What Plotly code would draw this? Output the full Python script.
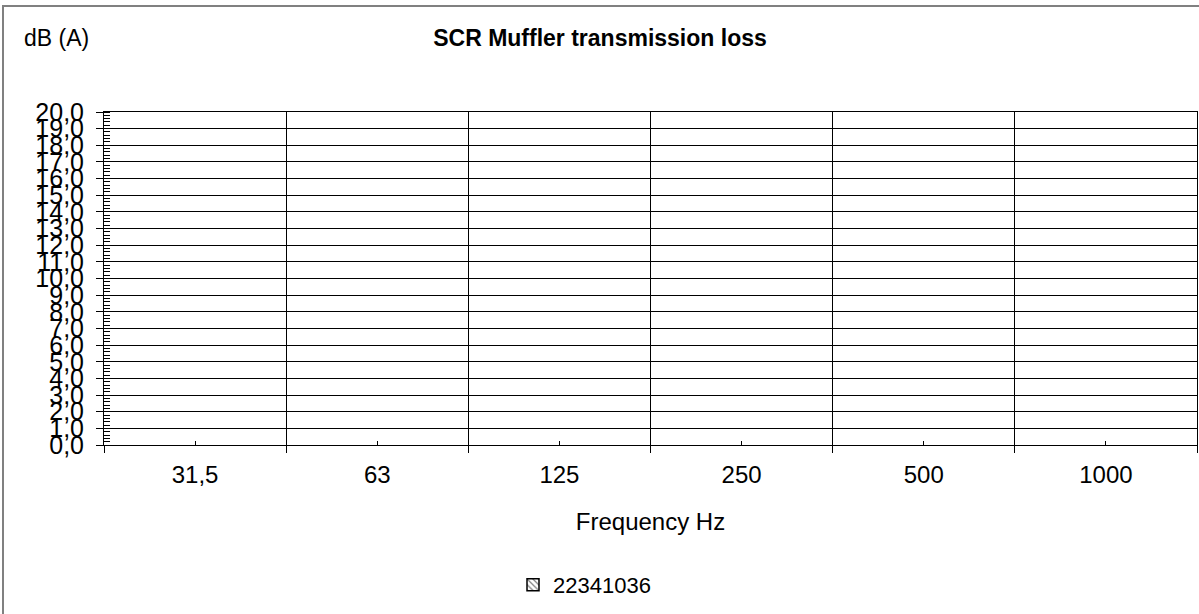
import plotly.graph_objects as go

categories = ["31,5", "63", "125", "250", "500", "1000"]
series_name = "22341036"
series_values = [None, None, None, None, None, None]

title_text = "SCR Muffler transmission loss"
y_label = "dB (A)"
x_label = "Frequency Hz"

L, R, T, B = 104, 2, 112, 169
W, H = 1199, 614
pw = W - L - R
ph = H - T - B

fig = go.Figure()
fig.add_trace(go.Bar(
    x=categories, y=series_values, name=series_name,
    marker=dict(color="white", line=dict(color="black", width=1.5),
                pattern=dict(shape="\\", fgcolor="black", size=5, solidity=0.3)),
    showlegend=True,
))
fig.add_trace(go.Scatter(
    x=categories, y=[None] * len(categories), xaxis="x2", yaxis="y",
    showlegend=False, hoverinfo="skip", mode="lines",
))

FONT = "Liberation Sans, Arial, sans-serif"

fig.update_layout(
    width=W, height=H,
    margin=dict(l=L, r=R, t=T, b=B, autoexpand=False),
    paper_bgcolor="white", plot_bgcolor="white",
    separators=", ",
    font=dict(family=FONT, size=22, color="black"),
    title=dict(text="<b>" + title_text + "</b>", x=600 / W, xref="container", xanchor="center",
               y=1 - 38 / H, yref="container", yanchor="middle",
               font=dict(size=23, family=FONT, color="black")),
    xaxis=dict(
        type="category", categoryorder="array", categoryarray=categories,
        tickson="boundaries", ticks="outside", ticklen=7, tickcolor="black",
        showgrid=True, gridcolor="black", gridwidth=1,
        showline=True, linecolor="black", linewidth=1, mirror=True,
        tickfont=dict(size=24, family=FONT), ticklabelstandoff=8,
        title=dict(text=x_label, standoff=26, font=dict(size=24, family=FONT)),
        automargin=False, fixedrange=True,
    ),
    xaxis2=dict(
        type="category", categoryorder="array", categoryarray=categories,
        overlaying="x", anchor="y", side="bottom", matches="x",
        ticks="inside", ticklen=4, tickcolor="black", tickson="labels",
        showticklabels=False, showgrid=False, showline=False, zeroline=False,
    ),
    yaxis=dict(
        range=[0, 20], dtick=1, tick0=0, tickformat=".1f",
        ticks="outside", ticklen=7, tickcolor="black",
        showgrid=True, gridcolor="black", gridwidth=1,
        showline=True, linecolor="black", linewidth=1, mirror=True,
        zeroline=False,
        tickfont=dict(size=25, family=FONT), ticklabelstandoff=7,
        minor=dict(dtick=0.2, ticks="inside", ticklen=6, tickcolor="black", showgrid=False),
        automargin=False, fixedrange=True,
    ),
    showlegend=True,
    legend=dict(orientation="h", x=(513 - L) / pw, xanchor="left",
                y=(H - B - 585) / ph, yanchor="middle",
                font=dict(size=22, family=FONT), bgcolor="rgba(0,0,0,0)"),
    bargap=0.5,
)

fig.add_annotation(text=y_label, xref="paper", yref="paper",
                   x=(22 - L) / pw, y=1 + (T - 38) / ph, xanchor="left", yanchor="middle",
                   showarrow=False, font=dict(size=23, family=FONT, color="black"))

fig.add_shape(type="rect", xref="paper", yref="paper",
              x0=(3 - L) / pw, x1=1.05, y0=-0.8, y1=1 + (T - 6) / ph,
              line=dict(color="#808080", width=2), fillcolor="rgba(0,0,0,0)", layer="below")

fig.write_html("out.html", config={"displayModeBar": False},
               post_script="document.body.style.margin='0px';")
